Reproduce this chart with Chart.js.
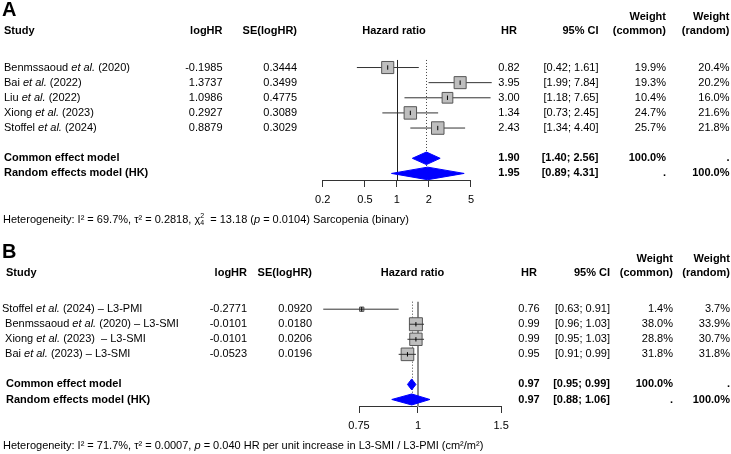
<!DOCTYPE html>
<html><head><meta charset="utf-8">
<script src="https://cdn.jsdelivr.net/npm/chart.js@4/dist/chart.umd.min.js"></script>
<style>
html,body{margin:0;padding:0;background:#fff;}
#wrap{position:relative;width:731px;height:454px;overflow:hidden;}
#ca{position:absolute;left:0;top:0;}
#cb{position:absolute;left:0;top:236px;}
</style></head><body>
<div id="wrap"><canvas id="ca" width="731" height="236"></canvas><canvas id="cb" width="731" height="218"></canvas></div>
<script>
// ---------- Panel A data ----------
const studiesA = ["Benmssaoud et al. (2020)", "Bai et al. (2022)", "Liu et al. (2022)", "Xiong et al. (2023)", "Stoffel et al. (2024)"];
const logHRA = [-0.1985, 1.3737, 1.0986, 0.2927, 0.8879];
const seA = [0.3444, 0.3499, 0.4775, 0.3089, 0.3029];
const hrA = [0.82, 3.95, 3.00, 1.34, 2.43];
const lowerA = [0.42, 1.99, 1.18, 0.73, 1.34];
const upperA = [1.61, 7.84, 7.65, 2.45, 4.40];
const wCommonA = [19.9, 19.3, 10.4, 24.7, 25.7];
const wRandomA = [20.4, 20.2, 16.0, 21.6, 21.8];
const commonA = [1.90, 1.40, 2.56];
const randomA = [1.95, 0.89, 4.31];
const ticksA = [0.2, 0.5, 1, 2, 5];

// ---------- Panel B data ----------
const studiesB = ["Stoffel et al. (2024) \u2013 L3-PMI", " Benmssaoud et al. (2020) \u2013 L3-SMI", " Xiong et al. (2023)  \u2013 L3-SMI", " Bai et al. (2023) \u2013 L3-SMI"];
const logHRB = [-0.2771, -0.0101, -0.0101, -0.0523];
const seB = [0.0920, 0.0180, 0.0206, 0.0196];
const hrB = [0.76, 0.99, 0.99, 0.95];
const lowerB = [0.63, 0.96, 0.95, 0.91];
const upperB = [0.91, 1.03, 1.03, 0.99];
const wCommonB = [1.4, 38.0, 28.8, 31.8];
const wRandomB = [3.7, 33.9, 30.7, 31.8];
const commonB = [0.97, 0.95, 0.99];
const randomB = [0.97, 0.88, 1.06];
const ticksB = [0.75, 1, 1.5];

const FONT = "'Liberation Sans', Arial, Helvetica, sans-serif";
Chart.defaults.font.family = FONT;
function fnt(size, bold, italic){ return (italic?'italic ':'') + (bold?'bold ':'') + size + 'px ' + FONT; }
function segWidth(ctx, segs){ let w=0; for (const s of segs){ if (s.noAdvance) continue; ctx.font = fnt(s.size||11, s.bold, s.italic); w += ctx.measureText(s.t).width; } return w; }
function drawRich(ctx, segs, x, y, align){
  const tw = segWidth(ctx, segs);
  let cx = align==='right' ? x - tw : (align==='center' ? x - tw/2 : x);
  let lastX = cx;
  ctx.textBaseline = 'middle'; ctx.textAlign = 'left'; ctx.fillStyle = '#000';
  for (const s of segs){
    ctx.font = fnt(s.size||11, s.bold, s.italic);
    const dx = s.noAdvance ? lastX : cx;
    ctx.fillText(s.t, dx, y + (s.dy||0));
    if (!s.noAdvance){ lastX = cx; cx += ctx.measureText(s.t).width; }
  }
}
function txt(ctx, t, x, y, align, bold){ drawRich(ctx, [{t, bold}], x, y, align); }
function labelSegs(s, bold){
  const i = s.indexOf('et al.');
  if (i < 0) return [{t:s, bold}];
  return [{t:s.slice(0,i), bold}, {t:'et al.', italic:true, bold}, {t:s.slice(i+6), bold}];
}
const ci = (l,h) => '[' + l.toFixed(2) + '; ' + h.toFixed(2) + ']';

function makePanel(canvasId, P){
  const n = P.hr.length;
  const maxW = Math.max(...P.wr);
  const sqR = P.wr.map(w => P.sqMax * Math.sqrt(w / maxW) / Math.SQRT2);
  const datasets = [];
  datasets.push({type:'scatter', data: P.hr.map((v,i)=>({x:v, y:i})), pointStyle:'line', pointRotation:90,
    pointRadius: 2.2, borderColor:'#000', borderWidth:1, order:0, clip:false});
  datasets.push({type:'scatter', data: P.hr.map((v,i)=>({x:v, y:i})), pointStyle:'rect', pointRadius: sqR,
    backgroundColor:'#BEBEBE', borderColor:'#555', borderWidth:1, order: P.ciOver ? 2 : 1, clip:false});
  P.lo.forEach((l,i)=>{
    datasets.push({type:'line', showLine:true, data:[{x:l, y:i},{x:P.hi[i], y:i}], borderColor:'#333', borderWidth:1,
      pointRadius:0, order: P.ciOver ? 1 : 2, clip:false, fill:false});
  });
  const plugin = {
    id: 'forest' + P.title,
    beforeDatasetsDraw(chart){
      const {ctx, scales:{x, y}, chartArea} = chart;
      const top = y.getPixelForValue(-0.5);
      ctx.save();
      const x1 = Math.round(x.getPixelForValue(1)) + (P.refWidth % 2 ? 0.5 : 0);
      ctx.strokeStyle = P.refColor; ctx.lineWidth = P.refWidth;
      ctx.beginPath(); ctx.moveTo(x1, top); ctx.lineTo(x1, chartArea.bottom); ctx.stroke();
      const xc = Math.round(x.getPixelForValue(P.common[0])) + 0.5;
      ctx.setLineDash([1,2]); ctx.strokeStyle = '#444'; ctx.lineWidth = 1;
      ctx.beginPath(); ctx.moveTo(xc, top); ctx.lineTo(xc, y.getPixelForValue(n+2)); ctx.stroke();
      ctx.restore();
    },
    afterDatasetsDraw(chart){
      const {ctx, scales:{x, y}} = chart;
      ctx.save();
      [[P.common, n+1], [P.random, n+2]].forEach(([d, r]) => {
        const xe = x.getPixelForValue(d[0]), xl = x.getPixelForValue(d[1]), xh = x.getPixelForValue(d[2]);
        const yc = y.getPixelForValue(r), h = P.dh;
        ctx.beginPath(); ctx.moveTo(xl, yc); ctx.lineTo(xe, yc-h); ctx.lineTo(xh, yc); ctx.lineTo(xe, yc+h); ctx.closePath();
        ctx.fillStyle = '#0000FF'; ctx.fill(); ctx.strokeStyle = '#0000FF'; ctx.lineWidth = 1; ctx.stroke();
      });
      ctx.restore();
    },
    afterDraw(chart){
      const {ctx, scales:{y}} = chart;
      const C = P.cols;
      ctx.save();
      drawRich(ctx, [{t:P.title, bold:true, size:20}], 2, P.titleY, 'left');
      const hy = P.hdrY, wy = hy - 14;
      txt(ctx, 'Study', C.studyHdr, hy, 'left', true);
      txt(ctx, 'logHR', C.logHR, hy, 'right', true);
      txt(ctx, 'SE(logHR)', C.se, hy, 'right', true);
      txt(ctx, 'Hazard ratio', C.plotHdr, hy, 'center', true);
      txt(ctx, 'HR', C.hr, hy, 'center', true);
      txt(ctx, '95% CI', C.ci, hy, 'right', true);
      txt(ctx, 'Weight', C.wc, wy, 'right', true);
      txt(ctx, '(common)', C.wc, hy, 'right', true);
      txt(ctx, 'Weight', C.wr, wy, 'right', true);
      txt(ctx, '(random)', C.wr, hy, 'right', true);
      for (let i = 0; i < n; i++){
        const ry = y.getPixelForValue(i);
        drawRich(ctx, labelSegs(P.studies[i], false), C.study, ry, 'left');
        txt(ctx, P.logHR[i].toFixed(4), C.logHR, ry, 'right');
        txt(ctx, P.se[i].toFixed(4), C.se, ry, 'right');
        txt(ctx, P.hr[i].toFixed(2), C.hr, ry, 'center');
        txt(ctx, ci(P.lo[i], P.hi[i]), C.ci, ry, 'right');
        txt(ctx, P.wc[i].toFixed(1) + '%', C.wc, ry, 'right');
        txt(ctx, P.wr[i].toFixed(1) + '%', C.wr, ry, 'right');
      }
      const cy = y.getPixelForValue(n+1), ry2 = y.getPixelForValue(n+2);
      txt(ctx, 'Common effect model', C.studyHdr, cy, 'left', true);
      txt(ctx, P.common[0].toFixed(2), C.hr, cy, 'center', true);
      txt(ctx, ci(P.common[1], P.common[2]), C.ci, cy, 'right', true);
      txt(ctx, '100.0%', C.wc, cy, 'right', true);
      txt(ctx, '.', C.wr, cy, 'right', true);
      txt(ctx, 'Random effects model (HK)', C.studyHdr, ry2, 'left', true);
      txt(ctx, P.random[0].toFixed(2), C.hr, ry2, 'center', true);
      txt(ctx, ci(P.random[1], P.random[2]), C.ci, ry2, 'right', true);
      txt(ctx, '.', C.wc, ry2, 'right', true);
      txt(ctx, '100.0%', C.wr, ry2, 'right', true);
      drawRich(ctx, P.het, 3, P.hetY, 'left');
      ctx.restore();
    }
  };
  const W = 731;
  return new Chart(document.getElementById(canvasId), {
    type: 'scatter',
    data: {datasets},
    options: {
      responsive: false, animation: false, events: [],
      layout: {padding: {left: P.plotLeft, right: W - P.plotRight, top: 0, bottom: P.padBottom}},
      plugins: {legend: {display:false}, tooltip: {enabled:false}},
      scales: {
        x: {type:'logarithmic', min: P.min, max: P.max, position:'bottom',
            afterBuildTicks: s => { s.ticks = P.ticks.map(v => ({value: v})); },
            ticks: {callback: v => String(v), font: {size: 11, family: FONT}, color:'#000', padding: 6, maxRotation: 0, autoSkip: false},
            grid: {display: true, drawOnChartArea: false, drawTicks: true, tickLength: 6, color: '#333', lineWidth: 1},
            border: {display: true, color: '#333', width: 1}},
        y: {type:'linear', reverse: true, min: P.yMin, max: P.yMax, display: false}
      }
    },
    plugins: [plugin]
  });
}

makePanel('ca', {
  title:'A', studies: studiesA, logHR: logHRA, se: seA, hr: hrA, lo: lowerA, hi: upperA, wc: wCommonA, wr: wRandomA,
  common: commonA, random: randomA, ticks: ticksA, min: 0.2, max: 5,
  plotLeft: 322.7, plotRight: 471, yMin: -3.8125, yMax: 7.5, padBottom: 23.8,
  sqMax: 12.5, dh: 6.3, ciOver: false, refColor: '#222', refWidth: 1,
  titleY: 10, hdrY: 31, hetY: 220,
  cols: {study: 4, studyHdr: 4, logHR: 222.5, se: 297, plotHdr: 394, hr: 509, ci: 598.5, wc: 666, wr: 729.5},
  het: [{t:'Heterogeneity: I\u00b2 = 69.7%, \u03c4\u00b2 = 0.2818, \u03c7'}, {t:'4', size:7, dy:3}, {t:'2', size:7, dy:-4, noAdvance:true},
        {t:'  = 13.18 ('}, {t:'p', italic:true}, {t:' = 0.0104) Sarcopenia (binary)'}]
});

makePanel('cb', {
  title:'B', studies: studiesB, logHR: logHRB, se: seB, hr: hrB, lo: lowerB, hi: upperB, wc: wCommonB, wr: wRandomB,
  common: commonB, random: randomB, ticks: ticksB, min: 0.75, max: 1.5,
  plotLeft: 359.0, plotRight: 501.1, yMin: -4.1875, yMax: 6.5, padBottom: 15.8,
  sqMax: 13, dh: 5.5, ciOver: true, refColor: '#8c8c8c', refWidth: 2,
  titleY: 16, hdrY: 37, hetY: 210,
  cols: {study: 2, studyHdr: 6, logHR: 247, se: 312, plotHdr: 412.5, hr: 529, ci: 610, wc: 673, wr: 730},
  het: [{t:'Heterogeneity: I\u00b2 = 71.7%, \u03c4\u00b2 = 0.0007, '}, {t:'p', italic:true},
        {t:' = 0.040 HR per unit increase in L3-SMI / L3-PMI (cm\u00b2/m\u00b2)'}]
});
</script>
</body></html>
